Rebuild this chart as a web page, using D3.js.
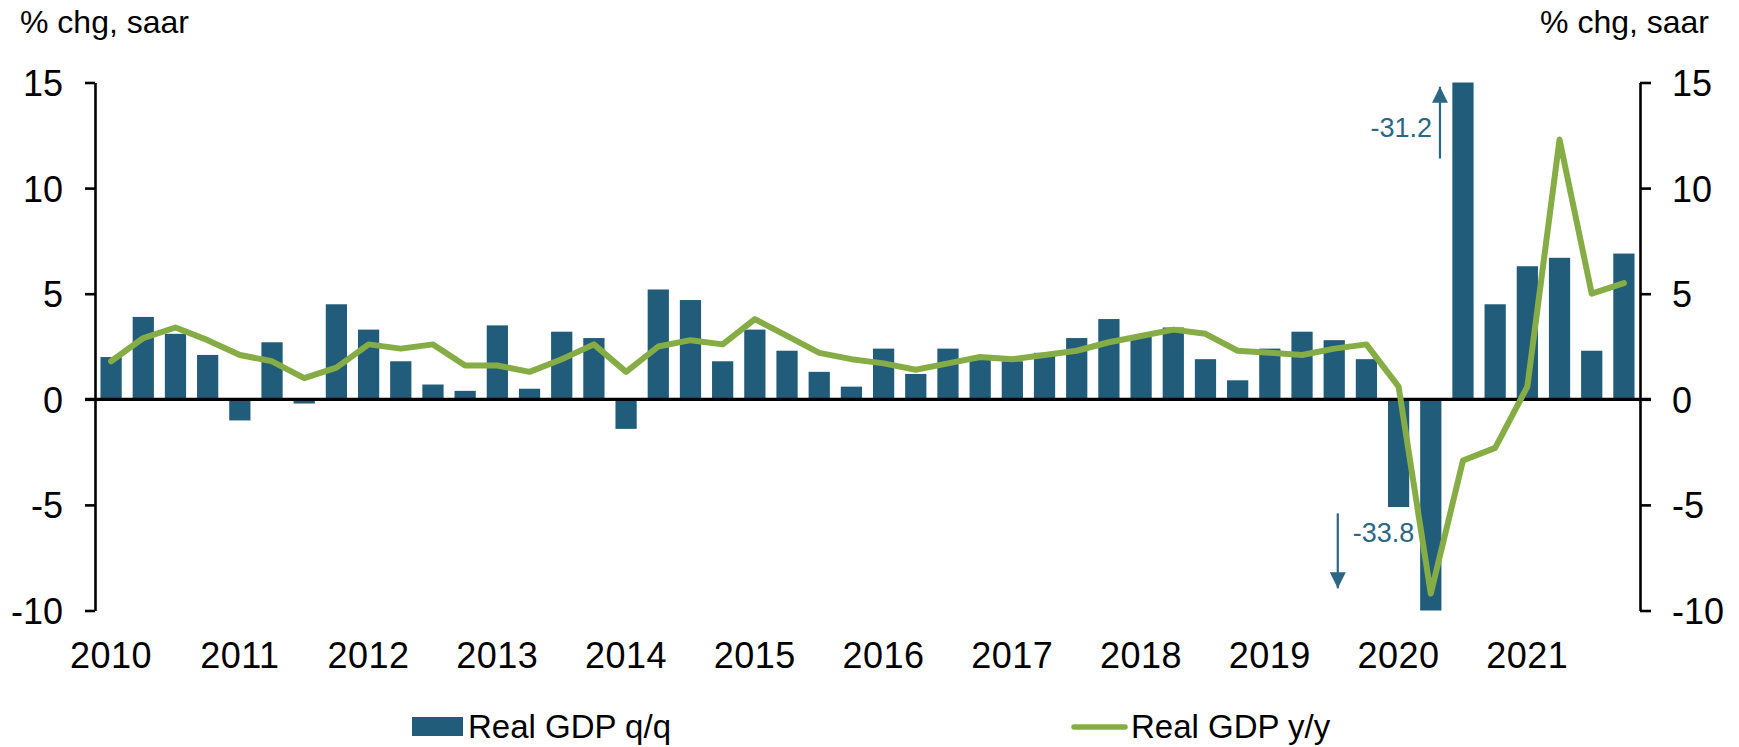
<!DOCTYPE html>
<html>
  <head>
    <meta charset="utf-8" />
    <title>Real GDP</title>
    <script src="https://d3js.org/d3.v7.min.js"></script>
    <style>
      body { margin: 0; background: #fff; }
      text { font-family: "Liberation Sans", Arial, sans-serif; }
    </style>
  </head>
  <body>
    <svg id="chart" width="1739" height="747"></svg>

    <script>
      // categories
      var years = [2010, 2011, 2012, 2013, 2014, 2015, 2016, 2017, 2018, 2019, 2020, 2021];
      var qtrs = ["Q1", "Q2", "Q3", "Q4"];
      var quarters = [];
      years.forEach(function (yr) {
        qtrs.forEach(function (q) {
          quarters.push(yr + " " + q);
        });
      });

      // Real GDP q/q, % chg saar (bars)
      var gdpQoQ = [
        2.0, 3.9, 3.1, 2.1,
        -1.0, 2.7, -0.2, 4.5,
        3.3, 1.8, 0.7, 0.4,
        3.5, 0.5, 3.2, 2.9,
        -1.4, 5.2, 4.7, 1.8,
        3.3, 2.3, 1.3, 0.6,
        2.4, 1.2, 2.4, 1.9,
        1.8, 2.2, 2.9, 3.8,
        3.0, 3.4, 1.9, 0.9,
        2.4, 3.2, 2.8, 1.9,
        -5.1, -31.2, 33.8, 4.5,
        6.3, 6.7, 2.3, 6.9
      ];

      // Real GDP y/y (line)
      var gdpYoY = [
        1.8, 2.9, 3.4, 2.8,
        2.1, 1.8, 1.0, 1.5,
        2.6, 2.4, 2.6, 1.6,
        1.6, 1.3, 1.9, 2.6,
        1.3, 2.5, 2.8, 2.6,
        3.8, 3.0, 2.2, 1.9,
        1.7, 1.4, 1.7, 2.0,
        1.9, 2.1, 2.3, 2.7,
        3.0, 3.3, 3.1, 2.3,
        2.2, 2.1, 2.4, 2.6,
        0.6, -9.2, -2.9, -2.3,
        0.6, 12.3, 5.0, 5.5
      ];

      var yTicks = [-10, -5, 0, 5, 10, 15];

      // off-scale notes: arrow anchored at a quarter, from/to in axis units
      var notes = [
        { text: "-31.2", at: "2020 Q3", dx: -23, from: 11.4, to: 14.8 },
        { text: "-33.8", at: "2020 Q2", dx: -93, from: -5.4, to: -8.95 }
      ];

      var barColor = "#215d7a";
      var lineColor = "#86ad45";
      var noteColor = "#2b6684";

      var plotLeft = 95, plotRight = 1640, plotTop = 82.5, plotBottom = 610.5;

      var svg = d3.select("#chart");

      var x = d3
        .scaleBand()
        .domain(quarters)
        .range([plotLeft, plotRight])
        .paddingInner(0.34)
        .paddingOuter(0.17);

      var y = d3.scaleLinear().domain([-10, 15]).range([plotBottom, plotTop]).clamp(true);

      function cx(q) {
        return x(q) + x.bandwidth() / 2;
      }

      // plain hyphen for negatives, as in the original
      function tickText(d) {
        return String(d);
      }

      // bars
      svg
        .append("g")
        .selectAll("rect")
        .data(gdpQoQ)
        .enter()
        .append("rect")
        .attr("x", function (d, i) {
          return x(quarters[i]);
        })
        .attr("width", x.bandwidth())
        .attr("y", function (d) {
          return Math.min(y(d), y(0));
        })
        .attr("height", function (d) {
          return Math.abs(y(d) - y(0));
        })
        .style("fill", barColor);

      // axes
      var leftAxis = svg
        .append("g")
        .attr("transform", "translate(" + plotLeft + ",0)")
        .call(d3.axisLeft(y).tickValues(yTicks).tickSize(10).tickSizeOuter(0).tickPadding(22).tickFormat(tickText));

      var rightAxis = svg
        .append("g")
        .attr("transform", "translate(" + plotRight + ",0)")
        .call(d3.axisRight(y).tickValues(yTicks).tickSize(11).tickSizeOuter(0).tickPadding(21).tickFormat(tickText));

      [leftAxis, rightAxis].forEach(function (ax) {
        ax.selectAll("path, line").style("stroke", "#000").style("stroke-width", 2.6);
        ax.selectAll("text")
          .style("font-size", "36px")
          .style("fill", "#000")
          .attr("dy", "0.36em");
      });

      // zero line
      svg
        .append("line")
        .attr("x1", plotLeft - 10)
        .attr("x2", plotRight + 11)
        .attr("y1", y(0))
        .attr("y2", y(0))
        .style("stroke", "#000")
        .style("stroke-width", 3.2);

      // year labels under Q1 bars
      svg
        .append("g")
        .selectAll("text")
        .data(years)
        .enter()
        .append("text")
        .attr("x", function (d) {
          return cx(d + " Q1");
        })
        .attr("y", 668)
        .attr("text-anchor", "middle")
        .style("font-size", "36px")
        .style("letter-spacing", "0.5px")
        .text(function (d) {
          return d;
        });

      // y/y line
      var line = d3
        .line()
        .x(function (d, i) {
          return cx(quarters[i]);
        })
        .y(function (d) {
          return y(d);
        });

      svg
        .append("path")
        .datum(gdpYoY)
        .attr("d", line)
        .style("fill", "none")
        .style("stroke", lineColor)
        .style("stroke-width", 6)
        .style("stroke-linecap", "round")
        .style("stroke-linejoin", "round");

      // arrows
      svg
        .append("defs")
        .append("marker")
        .attr("id", "arrowhead")
        .attr("viewBox", "-5 -5 10 10")
        .attr("refX", 5)
        .attr("refY", 0)
        .attr("markerUnits", "userSpaceOnUse")
        .attr("markerWidth", 16)
        .attr("markerHeight", 16)
        .attr("orient", "auto")
        .append("path")
        .attr("d", "M -5,-5 L 5,0 L -5,5 Z")
        .style("fill", noteColor);

      notes.forEach(function (n) {
        var ax = cx(n.at) + n.dx;
        svg
          .append("line")
          .attr("x1", ax)
          .attr("x2", ax)
          .attr("y1", y(n.from))
          .attr("y2", y(n.to))
          .attr("marker-end", "url(#arrowhead)")
          .style("stroke", noteColor)
          .style("stroke-width", 2.2);
      });

      svg
        .append("text")
        .attr("x", cx(notes[0].at) + notes[0].dx - 8)
        .attr("y", y(12.9))
        .attr("dy", "0.36em")
        .attr("text-anchor", "end")
        .style("font-size", "27px")
        .style("fill", noteColor)
        .text(notes[0].text);

      svg
        .append("text")
        .attr("x", cx(notes[1].at) + notes[1].dx + 15)
        .attr("y", y(-6.3))
        .attr("dy", "0.36em")
        .attr("text-anchor", "start")
        .style("font-size", "27px")
        .style("fill", noteColor)
        .text(notes[1].text);

      // axis titles
      svg
        .append("text")
        .attr("x", 20)
        .attr("y", 33)
        .style("font-size", "32px")
        .text("% chg, saar");

      svg
        .append("text")
        .attr("x", 1709)
        .attr("y", 33)
        .attr("text-anchor", "end")
        .style("font-size", "32px")
        .text("% chg, saar");

      // legend
      var legend = svg.append("g");
      legend
        .append("rect")
        .attr("x", 412)
        .attr("y", 717)
        .attr("width", 51)
        .attr("height", 19)
        .style("fill", barColor);
      legend
        .append("text")
        .attr("x", 468)
        .attr("y", 738)
        .style("font-size", "33px")
        .text("Real GDP q/q");
      legend
        .append("line")
        .attr("x1", 1074)
        .attr("x2", 1125)
        .attr("y1", 727)
        .attr("y2", 727)
        .style("stroke", lineColor)
        .style("stroke-width", 5.5)
        .style("stroke-linecap", "round");
      legend
        .append("text")
        .attr("x", 1131)
        .attr("y", 738)
        .style("font-size", "33px")
        .text("Real GDP y/y");
    </script>
  </body>
</html>
